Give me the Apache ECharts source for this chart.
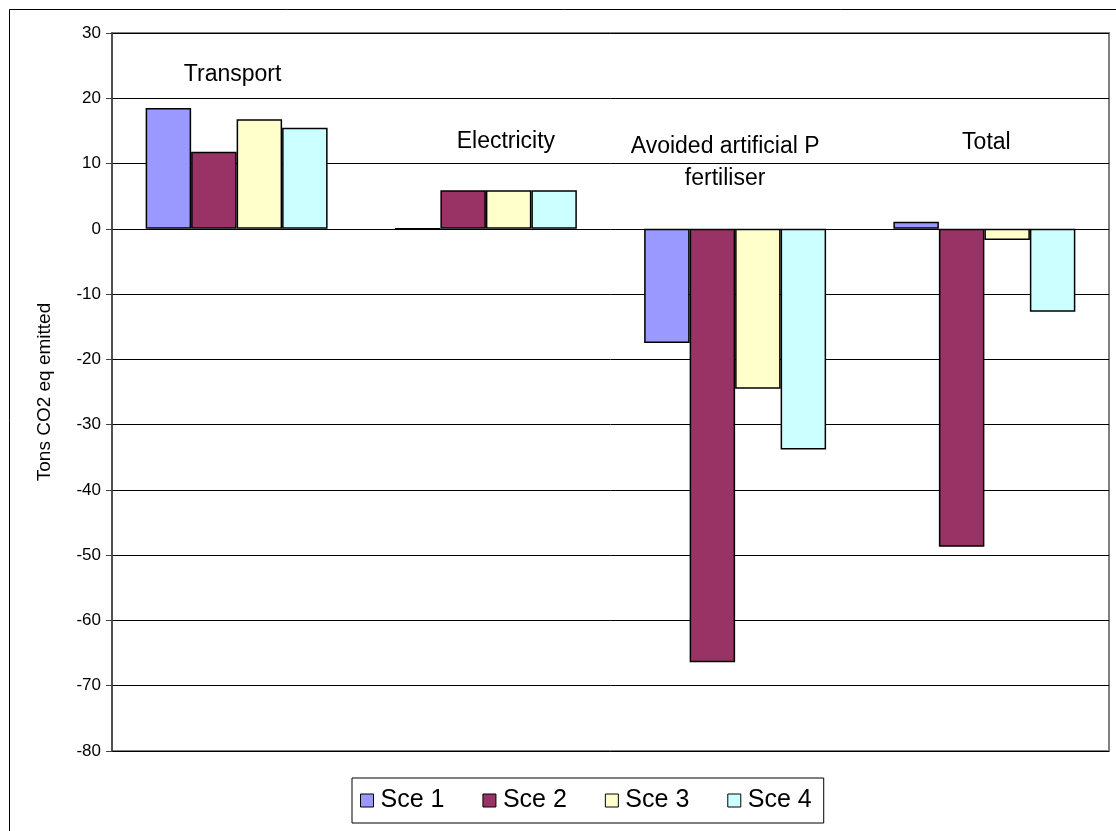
<!DOCTYPE html>
<html>
<head>
<meta charset="utf-8">
<script src="https://cdn.jsdelivr.net/npm/echarts@6/dist/echarts.min.js"></script>
<style>
html,body{margin:0;padding:0;background:#fff;}
#chart{width:1116px;height:831px;}
</style>
</head>
<body>
<div id="chart"></div>
<script>
var categories = ['Transport', 'Electricity', 'Avoided artificial P\nfertiliser', 'Total'];
var seriesNames = ['Sce 1', 'Sce 2', 'Sce 3', 'Sce 4'];
var sce1 = [18.5, 0, -17.5, 1.1];
var sce2 = [11.8, 5.9, -66.4, -48.7];
var sce3 = [16.8, 5.9, -24.5, -1.7];
var sce4 = [15.5, 5.9, -33.8, -12.7];
var yTicks = { min: -80, max: 30, interval: 10 };
var yAxisTitle = 'Tons CO2 eq emitted';

var colors = ['#9999FF', '#993366', '#FFFFCC', '#CCFFFF'];
// label anchor values (y in data units) and x offsets for the category text boxes
var labelAnchors = [[0, 23.6, -4], [1, 13.3, 20], [2, 10.1, -10], [3, 13.2, 2]];

var chart = echarts.init(document.getElementById('chart'));
var allData = [sce1, sce2, sce3, sce4];
var FONT = 'Liberation Sans, Arial, sans-serif';

var series = seriesNames.map(function (n, i) {
  return {
    name: n,
    type: 'bar',
    data: allData[i],
    barGap: '0%',
    barCategoryGap: '27%',
    itemStyle: { color: colors[i], borderColor: '#000', borderWidth: 1.5 },
    emphasis: { disabled: true },
    animation: false
  };
});

chart.setOption({
  animation: false,
  backgroundColor: '#fff',
  grid: { left: 112, right: 7, top: 33, bottom: 80, show: true, borderColor: '#808080', borderWidth: 2, backgroundColor: 'transparent' },
  legend: {
    data: seriesNames,
    left: 352, top: 778,
    orient: 'horizontal',
    itemWidth: 13, itemHeight: 13, itemGap: 38,
    padding: [10, 12, 10, 8],
    borderColor: '#000', borderWidth: 1,
    backgroundColor: '#fff',
    icon: 'rect',
    itemStyle: { borderColor: '#000', borderWidth: 1 },
    textStyle: { fontFamily: FONT, fontSize: 25, color: '#000', padding: [0, 0, 0, 2] }
  },
  xAxis: {
    type: 'category',
    data: categories,
    axisLine: { show: false },
    axisTick: { show: false },
    axisLabel: { show: false },
    splitLine: { show: false }
  },
  yAxis: {
    type: 'value',
    min: yTicks.min, max: yTicks.max, interval: yTicks.interval,
    name: yAxisTitle,
    nameLocation: 'middle',
    nameRotate: 90,
    nameGap: 58,
    nameTextStyle: { fontFamily: FONT, fontSize: 19, color: '#000' },
    axisLine: { show: true, lineStyle: { color: '#404040', width: 1.5 } },
    axisTick: { show: true, inside: false, length: 6, lineStyle: { color: '#404040' } },
    axisLabel: { fontFamily: FONT, fontSize: 17, color: '#000', margin: 11 },
    splitLine: { show: true, lineStyle: { color: '#000', width: 1 } }
  },
  series: series,
  graphic: []
});

var g = [{
  type: 'rect', shape: { x: 9.5, y: 9.5, width: 1200, height: 1000 },
  style: { fill: 'none', stroke: '#000', lineWidth: 1 }, silent: true, z: 100
}];
labelAnchors.forEach(function (a) {
  var p = chart.convertToPixel({ gridIndex: 0 }, [a[0], a[1]]);
  g.push({
    type: 'text', x: p[0] + a[2], y: p[1], z: 100,
    style: {
      text: categories[a[0]], font: '23px ' + FONT, fill: '#000',
      align: 'center', verticalAlign: 'middle', lineHeight: 32
    }
  });
});
chart.setOption({ graphic: g });
</script>
</body>
</html>
